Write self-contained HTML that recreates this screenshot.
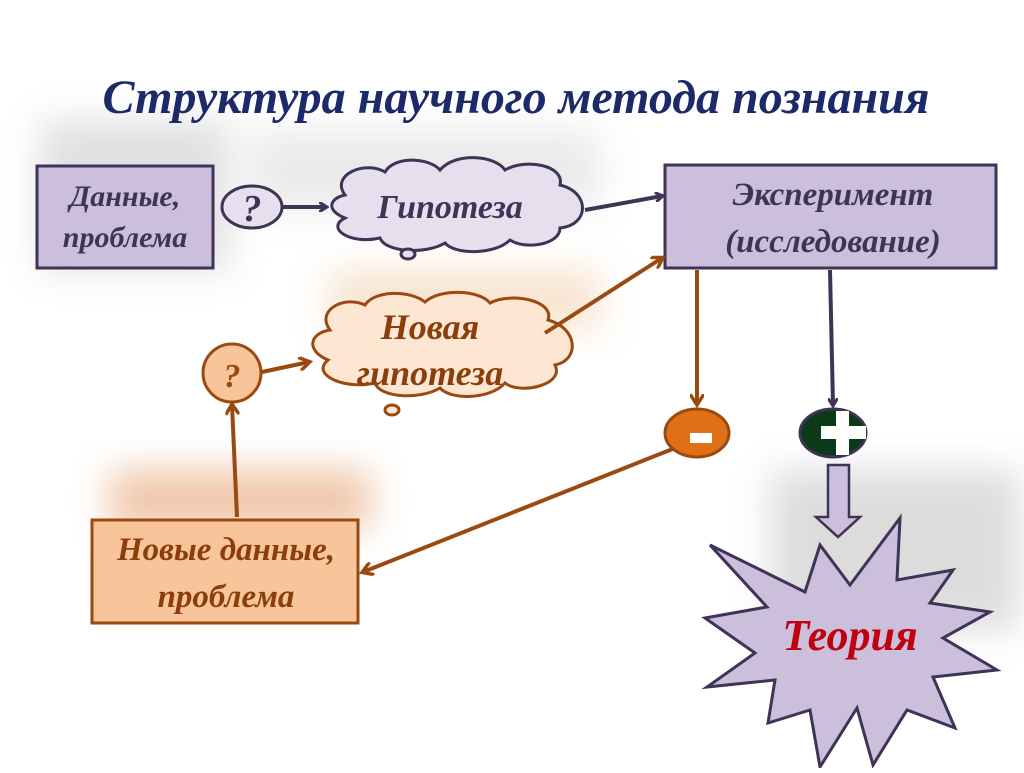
<!DOCTYPE html>
<html><head><meta charset="utf-8"><style>
body{margin:0;width:1024px;height:768px;background:#fff;overflow:hidden;}
svg text{font-family:"Liberation Serif","DejaVu Serif",serif;font-style:italic;font-weight:bold;}
</style></head><body>
<svg width="1024" height="768" viewBox="0 0 1024 768" xmlns="http://www.w3.org/2000/svg">
<defs>
<filter id="b" x="-50%" y="-50%" width="200%" height="200%"><feGaussianBlur stdDeviation="18"/></filter>
<marker id="ap" markerWidth="10" markerHeight="10" refX="7" refY="5" orient="auto" markerUnits="userSpaceOnUse"><path d="M0,0 L8,5 L0,10" fill="none" stroke="#3f3356" stroke-width="3"/></marker>
<marker id="ao" markerWidth="14" markerHeight="14" refX="10" refY="7" orient="auto" markerUnits="userSpaceOnUse"><path d="M0,0 L11,7 L0,14" fill="none" stroke="#9a4a10" stroke-width="3.5"/></marker>
</defs>
<!-- shadows -->
<rect x="40" y="120" width="190" height="150" fill="#bbb" filter="url(#b)" opacity="0.45"/>
<rect x="250" y="130" width="350" height="80" fill="#ccc" filter="url(#b)" opacity="0.4"/>
<rect x="330" y="270" width="270" height="60" fill="#f0c8a0" filter="url(#b)" opacity="0.5"/>
<rect x="110" y="470" width="260" height="60" fill="#e6a070" filter="url(#b)" opacity="0.6"/>
<rect x="770" y="470" width="250" height="160" fill="#aaa" filter="url(#b)" opacity="0.4"/>
<text x="516" y="113" font-size="48" fill="#1c2a6a" text-anchor="middle">Структура научного метода познания</text>
<!-- boxes -->
<rect x="37" y="166" width="176" height="102" fill="#cbbfdc" stroke="#3f3356" stroke-width="3"/>
<text x="125" y="206" font-size="30" fill="#3f3356" text-anchor="middle">Данные,</text>
<text x="125" y="247" font-size="30" fill="#3f3356" text-anchor="middle">проблема</text>
<rect x="665" y="165" width="331" height="103" fill="#cbbfdc" stroke="#3f3356" stroke-width="3"/>
<text x="833" y="205" font-size="33" fill="#3f3356" text-anchor="middle" font-weight="normal">Эксперимент</text>
<text x="833" y="252" font-size="33" fill="#3f3356" text-anchor="middle" font-weight="normal">(исследование)</text>
<rect x="92" y="520" width="266" height="103" fill="#f8c49a" stroke="#9a4a10" stroke-width="3"/>
<text x="226" y="560" font-size="33" fill="#8a3e0c" text-anchor="middle">Новые данные,</text>
<text x="226" y="607" font-size="33" fill="#8a3e0c" text-anchor="middle">проблема</text>
<!-- circles -->
<ellipse cx="252" cy="207" rx="30" ry="21" fill="#e6e0ee" stroke="#3f3356" stroke-width="3"/>
<text x="252" y="221" font-size="38" fill="#3f3356" text-anchor="middle">?</text>
<circle cx="232" cy="373" r="29" fill="#f8c49a" stroke="#9a4a10" stroke-width="3"/>
<text x="232" y="387" font-size="34" fill="#9a4a10" text-anchor="middle" font-weight="normal">?</text>
<!-- clouds -->
<path d="M345,195 C330,175 365,160 385,172 C395,155 430,158 440,170 C455,152 495,155 505,170 C525,158 565,165 560,185 C590,192 590,225 560,228 C560,245 525,250 510,240 C495,255 455,255 445,243 C425,255 385,252 380,238 C350,245 325,228 345,218 C325,210 330,198 345,195Z" fill="#e6e0ee" stroke="#3f3356" stroke-width="3"/>
<ellipse cx="408" cy="254" rx="7" ry="5" fill="#e6e0ee" stroke="#3f3356" stroke-width="3"/>
<text x="450" y="218" font-size="34" fill="#3f3356" text-anchor="middle">Гипотеза</text>
<path d="M330,330 C315,310 345,295 365,305 C375,290 410,290 425,302 C440,288 480,290 490,303 C510,292 555,300 548,320 C578,328 580,360 555,365 C565,385 520,395 505,383 C490,400 450,400 440,388 C420,400 380,398 375,383 C345,390 310,375 328,360 C305,350 310,333 330,330Z" fill="#fde6d2" stroke="#9a4a10" stroke-width="3"/>
<ellipse cx="392" cy="410" rx="7" ry="5" fill="#fde6d2" stroke="#9a4a10" stroke-width="3"/>
<text x="430" y="339" font-size="36" fill="#8a3e0c" text-anchor="middle" font-weight="normal">Новая</text>
<text x="430" y="385" font-size="36" fill="#8a3e0c" text-anchor="middle" font-weight="normal">гипотеза</text>
<!-- connectors -->
<line x1="283" y1="207" x2="326" y2="207" stroke="#3f3356" stroke-width="4" marker-end="url(#ap)"/>
<line x1="585" y1="210" x2="662" y2="196" stroke="#3f3356" stroke-width="4" marker-end="url(#ap)"/>
<line x1="830" y1="270" x2="833" y2="405" stroke="#3f3356" stroke-width="4" marker-end="url(#ap)"/>
<line x1="697" y1="270" x2="697" y2="404" stroke="#9a4a10" stroke-width="4" marker-end="url(#ao)"/>
<line x1="545" y1="333" x2="662" y2="258" stroke="#9a4a10" stroke-width="4" marker-end="url(#ao)"/>
<line x1="262" y1="372" x2="309" y2="362" stroke="#9a4a10" stroke-width="4" marker-end="url(#ao)"/>
<line x1="237" y1="517" x2="232" y2="405" stroke="#9a4a10" stroke-width="4" marker-end="url(#ao)"/>
<line x1="675" y1="448" x2="363" y2="572" stroke="#9a4a10" stroke-width="4" marker-end="url(#ao)"/>
<!-- +/- -->
<ellipse cx="697" cy="433" rx="32" ry="24" fill="#e07018" stroke="#9a4a10" stroke-width="3"/>
<rect x="690" y="433" width="22" height="10" fill="#fff"/>
<ellipse cx="833" cy="433" rx="33" ry="24" fill="#0b3a18" stroke="#3f3356" stroke-width="3"/>
<rect x="821" y="426" width="45" height="13" fill="#fff"/>
<rect x="836" y="411" width="13" height="44" fill="#fff"/>
<!-- block arrow -->
<path d="M828,465 L849,465 L849,517 L860,517 L838,537 L816,517 L828,517Z" fill="#cbbfdc" stroke="#3f3356" stroke-width="2.5"/>
<!-- star -->
<path d="M710,545 L805,592 L820,545 L850,585 L900,518 L897,580 L953,570 L930,603 L990,612 L943,638 L997,670 L933,677 L955,728 L907,710 L873,765 L857,708 L820,767 L810,710 L768,723 L775,680 L707,687 L755,653 L705,618 L767,607Z" fill="#cbbfdc" stroke="#3f3356" stroke-width="3"/>
<text x="850" y="650" font-size="44" fill="#c00010" text-anchor="middle">Теория</text>
</svg>
</body></html>
